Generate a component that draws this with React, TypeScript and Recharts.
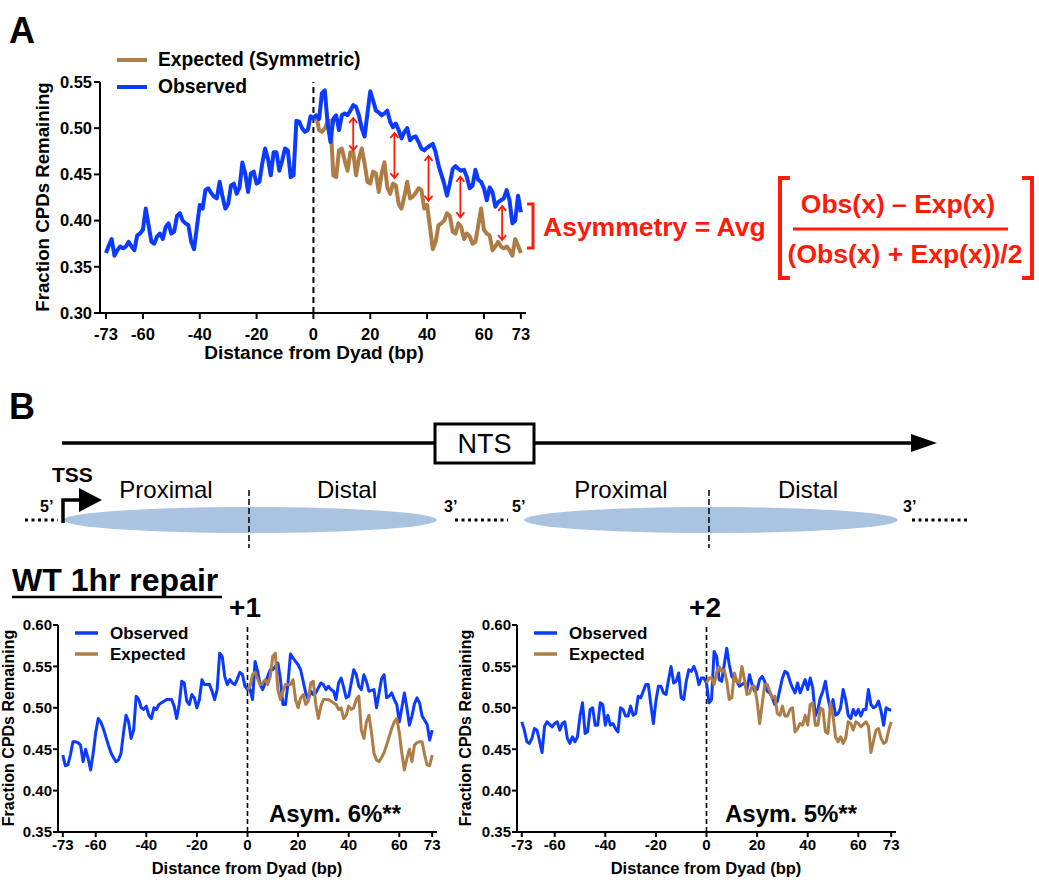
import React from "react";
import { LineChart, Line, XAxis, YAxis, ReferenceLine } from "recharts";

const FONT = "'Liberation Sans', Arial, Helvetica, sans-serif";
const BLUE = "#0b3bff";
const BROWN = "#ae7d45";
const RED = "#ff1a0a";

// Distance from dyad ticks
const X_TICKS = [-73, -60, -40, -20, 0, 20, 40, 60, 73];
const Y_TICKS_A = [0.3, 0.35, 0.4, 0.45, 0.5, 0.55];
const Y_TICKS_B = [0.35, 0.4, 0.45, 0.5, 0.55, 0.6];

// ---- Panel A: observed, -73..0 and 1..73; expected (symmetric) 0..73
const obsALeft = [
  0.365, 0.373, 0.38, 0.362, 0.368, 0.372, 0.37, 0.372, 0.377, 0.372,
  0.368, 0.384, 0.386, 0.39, 0.413, 0.395, 0.377, 0.375, 0.383, 0.386,
  0.38, 0.393, 0.397, 0.386, 0.388, 0.405, 0.408, 0.4, 0.397, 0.395,
  0.377, 0.369, 0.393, 0.417, 0.413, 0.433, 0.435, 0.43, 0.426, 0.424,
  0.442, 0.426, 0.413, 0.418, 0.438, 0.44, 0.429, 0.436, 0.463, 0.451,
  0.431, 0.451, 0.453, 0.44, 0.442, 0.462, 0.478, 0.467, 0.449, 0.474,
  0.474, 0.454, 0.465, 0.478, 0.476, 0.447, 0.449, 0.508, 0.507, 0.5,
  0.496, 0.498, 0.513, 0.511,
];
const obsARight = [
  0.514, 0.51, 0.538, 0.541, 0.505, 0.485, 0.51, 0.514, 0.498, 0.514,
  0.516, 0.514, 0.519, 0.525, 0.523, 0.514, 0.5, 0.491, 0.516, 0.54,
  0.53, 0.519, 0.517, 0.514, 0.516, 0.519, 0.507, 0.501, 0.505, 0.498,
  0.489, 0.496, 0.5, 0.487, 0.49, 0.491, 0.485, 0.478, 0.476, 0.479,
  0.481, 0.483, 0.474, 0.46, 0.45, 0.44, 0.427, 0.44, 0.456, 0.459,
  0.456, 0.454, 0.455, 0.447, 0.435, 0.438, 0.455, 0.444, 0.442, 0.435,
  0.422, 0.436, 0.431, 0.415, 0.42, 0.422, 0.424, 0.433, 0.422, 0.397,
  0.4, 0.427, 0.409,
];
const expA = [
  0.511, 0.513, 0.498, 0.496, 0.5, 0.507, 0.508, 0.449, 0.447, 0.476,
  0.478, 0.465, 0.454, 0.474, 0.474, 0.449, 0.467, 0.478, 0.462, 0.442,
  0.44, 0.453, 0.451, 0.431, 0.451, 0.463, 0.436, 0.429, 0.44, 0.438,
  0.418, 0.413, 0.426, 0.442, 0.424, 0.426, 0.43, 0.435, 0.433, 0.413,
  0.417, 0.393, 0.369, 0.377, 0.395, 0.397, 0.4, 0.408, 0.405, 0.388,
  0.386, 0.397, 0.393, 0.38, 0.386, 0.383, 0.375, 0.377, 0.395, 0.413,
  0.39, 0.386, 0.384, 0.368, 0.372, 0.377, 0.372, 0.37, 0.372, 0.368,
  0.362, 0.38, 0.373, 0.365,
];
// red difference arrows (position, top, bottom)
const arrowX = [14, 28.5, 40.5, 51.7, 66.4];
const arrowTop = [0.511, 0.495, 0.47, 0.4475, 0.416];
const arrowBottom = [0.476, 0.446, 0.4215, 0.4035, 0.379];

// ---- Panel B, +1 nucleosome
const obsB1Left = [
  0.443, 0.43, 0.431, 0.443, 0.459, 0.459, 0.458, 0.455, 0.435, 0.45,
  0.439, 0.425, 0.445, 0.47, 0.487, 0.483, 0.475, 0.465, 0.455, 0.446,
  0.44, 0.435, 0.437, 0.445, 0.47, 0.491, 0.483, 0.463, 0.473, 0.514,
  0.51, 0.5, 0.498, 0.502, 0.491, 0.487, 0.5, 0.498, 0.504, 0.506,
  0.508, 0.51, 0.51, 0.51, 0.502, 0.487, 0.504, 0.532, 0.53, 0.508,
  0.504, 0.516, 0.512, 0.5, 0.51, 0.534, 0.528, 0.528, 0.528, 0.52,
  0.51, 0.522, 0.566, 0.562, 0.538, 0.528, 0.534, 0.53, 0.528, 0.535,
  0.543, 0.54, 0.526, 0.522,
];
const obsB1Right = [
  0.522, 0.51, 0.556, 0.544, 0.528, 0.522, 0.53, 0.538, 0.546, 0.546,
  0.55, 0.554, 0.535, 0.504, 0.504, 0.53, 0.565, 0.56, 0.556, 0.552,
  0.546, 0.532, 0.518, 0.51, 0.52, 0.516, 0.518, 0.524, 0.53, 0.528,
  0.522, 0.526, 0.522, 0.52, 0.51, 0.53, 0.536, 0.525, 0.512, 0.514,
  0.53, 0.546, 0.54, 0.526, 0.522, 0.54, 0.532, 0.52, 0.521, 0.522,
  0.5, 0.518, 0.535, 0.54, 0.512, 0.514, 0.518, 0.51, 0.504, 0.483,
  0.5, 0.518, 0.5, 0.479, 0.49, 0.505, 0.512, 0.506, 0.49, 0.485,
  0.48, 0.461, 0.473,
];
const expB1 = [
  0.522, 0.526, 0.54, 0.543, 0.535, 0.528, 0.53, 0.534, 0.528, 0.538,
  0.562, 0.566, 0.522, 0.51, 0.52, 0.528, 0.528, 0.528, 0.534, 0.51,
  0.5, 0.512, 0.516, 0.504, 0.508, 0.53, 0.532, 0.504, 0.487, 0.502,
  0.51, 0.51, 0.51, 0.508, 0.506, 0.504, 0.498, 0.5, 0.487, 0.491,
  0.502, 0.498, 0.5, 0.51, 0.514, 0.473, 0.463, 0.483, 0.491, 0.47,
  0.445, 0.437, 0.435, 0.44, 0.446, 0.455, 0.465, 0.475, 0.483, 0.487,
  0.47, 0.445, 0.425, 0.439, 0.45, 0.435, 0.455, 0.458, 0.459, 0.459,
  0.443, 0.431, 0.43, 0.443,
];

// ---- Panel B, +2 nucleosome
const obsB2Left = [
  0.483, 0.473, 0.459, 0.457, 0.463, 0.475, 0.473, 0.46, 0.446, 0.478,
  0.483, 0.48, 0.477, 0.481, 0.483, 0.473, 0.481, 0.483, 0.463, 0.457,
  0.465, 0.459, 0.465, 0.49, 0.506, 0.469, 0.471, 0.498, 0.5, 0.479,
  0.479, 0.506, 0.504, 0.479, 0.491, 0.479, 0.481, 0.475, 0.471, 0.5,
  0.498, 0.49, 0.49, 0.502, 0.491, 0.493, 0.514, 0.512, 0.52, 0.528,
  0.528, 0.504, 0.481, 0.508, 0.526, 0.526, 0.518, 0.516, 0.534, 0.55,
  0.53, 0.532, 0.542, 0.512, 0.51, 0.532, 0.546, 0.544, 0.55, 0.542,
  0.528, 0.536, 0.536, 0.53,
];
const obsB2Right = [
  0.506, 0.51, 0.568, 0.562, 0.534, 0.532, 0.552, 0.572, 0.552, 0.538,
  0.534, 0.532, 0.526, 0.528, 0.53, 0.522, 0.54, 0.528, 0.52, 0.522,
  0.534, 0.538, 0.532, 0.52, 0.518, 0.512, 0.504, 0.508, 0.522, 0.536,
  0.544, 0.542, 0.532, 0.524, 0.518, 0.53, 0.518, 0.526, 0.534, 0.522,
  0.536, 0.524, 0.49, 0.498, 0.512, 0.52, 0.532, 0.512, 0.498, 0.51,
  0.491, 0.493, 0.5, 0.522, 0.51, 0.491, 0.487, 0.498, 0.491, 0.498,
  0.49, 0.498, 0.498, 0.522, 0.504, 0.5, 0.502, 0.508, 0.496, 0.479,
  0.5, 0.498, 0.497,
];
const expB2 = [
  0.53, 0.536, 0.536, 0.528, 0.542, 0.55, 0.544, 0.546, 0.532, 0.51,
  0.512, 0.542, 0.532, 0.53, 0.55, 0.534, 0.516, 0.518, 0.526, 0.526,
  0.508, 0.481, 0.504, 0.528, 0.528, 0.52, 0.512, 0.514, 0.493, 0.491,
  0.502, 0.49, 0.49, 0.498, 0.5, 0.471, 0.475, 0.481, 0.479, 0.491,
  0.479, 0.504, 0.506, 0.479, 0.479, 0.5, 0.498, 0.471, 0.469, 0.506,
  0.49, 0.465, 0.459, 0.465, 0.457, 0.463, 0.483, 0.481, 0.473, 0.483,
  0.481, 0.477, 0.48, 0.483, 0.478, 0.446, 0.46, 0.473, 0.475, 0.463,
  0.457, 0.459, 0.473, 0.483,
];

type Row = { x: number; obs: number; exp: number | null };

function buildRows(left: number[], right: number[], exp: number[]): Row[] {
  const rows: Row[] = [];
  for (let x = -73; x <= 73; x++) {
    rows.push({
      x,
      obs: x <= 0 ? left[x + 73] : right[x - 1],
      exp: x >= 0 ? exp[x] : null,
    });
  }
  return rows;
}

const rowsA = buildRows(obsALeft, obsARight, expA);
const rowsB1 = buildRows(obsB1Left, obsB1Right, expB1);
const rowsB2 = buildRows(obsB2Left, obsB2Right, expB2);

const RedArrow = (props: any) => {
  const { x1, y1, y2 } = props;
  const top = Math.min(y1, y2);
  const bot = Math.max(y1, y2);
  const h = 4;
  return (
    <g stroke={RED} strokeWidth={1.8} fill="none">
      <line x1={x1} y1={top} x2={x1} y2={bot} />
      <polyline points={`${x1 - h},${top + h + 1} ${x1},${top} ${x1 + h},${top + h + 1}`} />
      <polyline points={`${x1 - h},${bot - h - 1} ${x1},${bot} ${x1 + h},${bot - h - 1}`} />
    </g>
  );
};

const axisLine = { stroke: "#000", strokeWidth: 2 };

function PanelA() {
  const tick = { fill: "#000", fontSize: 16.5, fontWeight: 700, fontFamily: FONT };
  return (
    <LineChart
      width={540}
      height={360}
      data={rowsA}
      margin={{ top: 82, right: 14, bottom: 17, left: 0 }}
    >
      <XAxis
        type="number"
        dataKey="x"
        height={30}
        domain={[-75.1, 74.8]}
        allowDataOverflow
        ticks={X_TICKS}
        interval={0}
        tick={tick}
        tickSize={6}
        tickMargin={9}
        axisLine={axisLine}
        tickLine={axisLine}
      />
      <YAxis
        type="number"
        width={100}
        domain={[0.3, 0.55]}
        allowDataOverflow
        ticks={Y_TICKS_A}
        interval={0}
        tickFormatter={(v: number) => v.toFixed(2)}
        tick={tick}
        tickSize={6}
        tickMargin={2}
        axisLine={axisLine}
        tickLine={axisLine}
      />
      <ReferenceLine x={0} stroke="#000" strokeWidth={2} strokeDasharray="6 4" />
      <Line
        dataKey="exp"
        stroke={BROWN}
        strokeWidth={4}
        dot={false}
        strokeLinejoin="round"
        isAnimationActive={false}
      />
      <Line
        dataKey="obs"
        stroke={BLUE}
        strokeWidth={4}
        dot={false}
        strokeLinejoin="round"
        isAnimationActive={false}
      />
      {arrowX.map((ax, i) => (
        <ReferenceLine
          key={i}
          segment={[
            { x: ax, y: arrowTop[i] },
            { x: ax, y: arrowBottom[i] },
          ]}
          stroke={RED}
          shape={RedArrow}
        />
      ))}
    </LineChart>
  );
}

function PanelB({ rows }: { rows: Row[] }) {
  const tick = { fill: "#000", fontSize: 15, fontWeight: 700, fontFamily: FONT };
  return (
    <LineChart
      width={450}
      height={290}
      data={rows}
      margin={{ top: 35, right: 13, bottom: 18, left: 0 }}
    >
      <XAxis
        type="number"
        dataKey="x"
        height={30}
        domain={[-74.9, 74.9]}
        allowDataOverflow
        ticks={X_TICKS}
        interval={0}
        tick={tick}
        tickSize={5}
        tickMargin={2}
        axisLine={axisLine}
        tickLine={axisLine}
      />
      <YAxis
        type="number"
        width={58}
        domain={[0.35, 0.6]}
        allowDataOverflow
        ticks={Y_TICKS_B}
        interval={0}
        tickFormatter={(v: number) => v.toFixed(2)}
        tick={tick}
        tickSize={5}
        tickMargin={1}
        axisLine={axisLine}
        tickLine={axisLine}
      />
      <ReferenceLine x={0} stroke="#000" strokeWidth={1.6} strokeDasharray="5 3" />
      <Line
        dataKey="obs"
        stroke={BLUE}
        strokeWidth={3}
        dot={false}
        strokeLinejoin="round"
        isAnimationActive={false}
      />
      <Line
        dataKey="exp"
        stroke={BROWN}
        strokeWidth={3}
        dot={false}
        strokeLinejoin="round"
        isAnimationActive={false}
      />
    </LineChart>
  );
}

function Overlay() {
  const b = { fontFamily: FONT, fontWeight: 700, fill: "#000" } as const;
  const n = { fontFamily: FONT, fontWeight: 400, fill: "#000" } as const;
  const r = { fontFamily: FONT, fontWeight: 700, fill: RED } as const;
  return (
    <svg
      width={1039}
      height={880}
      style={{ position: "absolute", left: 0, top: 0, pointerEvents: "none" }}
    >
      {/* Panel A */}
      <text x={9} y={43} fontSize={36} {...b}>A</text>
      <line x1={117} y1={60} x2={147} y2={60} stroke={BROWN} strokeWidth={4} />
      <text x={158} y={66} fontSize={19.3} {...b}>Expected (Symmetric)</text>
      <line x1={117} y1={87} x2={147} y2={87} stroke={BLUE} strokeWidth={4} />
      <text x={158} y={93} fontSize={19.3} {...b}>Observed</text>
      <text transform="translate(49,197) rotate(-90)" textAnchor="middle" fontSize={18.7} {...b}>
        Fraction CPDs Remaining
      </text>
      <text x={314} y={359} textAnchor="middle" fontSize={19} {...b}>
        Distance from Dyad (bp)
      </text>

      <polyline points="527,204 533,204 533,248 527,248" fill="none" stroke={RED} strokeWidth={3} />
      <text x={543} y={236} fontSize={26.5} {...r}>Asymmetry = Avg</text>
      <polyline points="790,178 780,178 780,278 790,278" fill="none" stroke={RED} strokeWidth={4} />
      <polyline points="1022,178 1032,178 1032,278 1022,278" fill="none" stroke={RED} strokeWidth={4} />
      <text x={898} y={213} textAnchor="middle" fontSize={26.5} {...r}>Obs(x) – Exp(x)</text>
      <line x1={793} y1={229} x2={1008} y2={229} stroke={RED} strokeWidth={3} />
      <text x={905} y={263} textAnchor="middle" fontSize={26.5} {...r}>(Obs(x) + Exp(x))/2</text>

      {/* Panel B diagram */}
      <text x={9} y={419} fontSize={36} {...b}>B</text>
      <line x1={62} y1={443} x2={915} y2={443} stroke="#000" strokeWidth={3.5} />
      <polygon points="911,434 937,443 911,452" fill="#000" />
      <rect x={435} y={424} width={99} height={39} fill="#fff" stroke="#000" strokeWidth={3} />
      <text x={484.5} y={453} textAnchor="middle" fontSize={27} {...n}>NTS</text>

      <ellipse cx={250} cy={520} rx={187} ry={13} fill="#a9c3e1" />
      <ellipse cx={711} cy={520} rx={187} ry={13} fill="#a9c3e1" />
      <line x1={249} y1={490} x2={249} y2={548} stroke="#000" strokeWidth={1.5} strokeDasharray="6 3" />
      <line x1={709} y1={490} x2={709} y2={548} stroke="#000" strokeWidth={1.5} strokeDasharray="6 3" />

      <text x={52} y={482} fontSize={21} {...b}>TSS</text>
      <polyline points="63,523 63,500 82,500" fill="none" stroke="#000" strokeWidth={3.5} />
      <polygon points="79,488 102,500 79,512" fill="#000" />
      <text x={40} y={512} fontSize={16} {...b}>5’</text>
      <line x1={25} y1={520} x2={58} y2={520} stroke="#000" strokeWidth={3} strokeDasharray="3 3.5" />

      <text x={166} y={498} textAnchor="middle" fontSize={24} {...n}>Proximal</text>
      <text x={347} y={498} textAnchor="middle" fontSize={24} {...n}>Distal</text>
      <text x={444} y={512} fontSize={16} {...b}>3’</text>
      <line x1={455} y1={520} x2={508} y2={520} stroke="#000" strokeWidth={3} strokeDasharray="3 3.5" />
      <text x={512} y={512} fontSize={16} {...b}>5’</text>
      <text x={621} y={498} textAnchor="middle" fontSize={24} {...n}>Proximal</text>
      <text x={808} y={498} textAnchor="middle" fontSize={24} {...n}>Distal</text>
      <text x={903} y={512} fontSize={16} {...b}>3’</text>
      <line x1={912} y1={520} x2={970} y2={520} stroke="#000" strokeWidth={3} strokeDasharray="3 3.5" />

      <text x={12} y={591} fontSize={32} {...b}>WT 1hr repair</text>
      <line x1={12} y1={597} x2={222} y2={597} stroke="#000" strokeWidth={2.5} />

      {/* Panel B charts */}
      <text x={245} y={617} textAnchor="middle" fontSize={28} {...b}>+1</text>
      <text x={705} y={617} textAnchor="middle" fontSize={28} {...b}>+2</text>

      <line x1={75} y1={633} x2={98} y2={633} stroke={BLUE} strokeWidth={3.5} />
      <text x={110} y={639} fontSize={17} {...b}>Observed</text>
      <line x1={75} y1={654} x2={98} y2={654} stroke={BROWN} strokeWidth={3.5} />
      <text x={110} y={660} fontSize={17} {...b}>Expected</text>

      <line x1={534} y1={633} x2={557} y2={633} stroke={BLUE} strokeWidth={3.5} />
      <text x={569} y={639} fontSize={17} {...b}>Observed</text>
      <line x1={534} y1={654} x2={557} y2={654} stroke={BROWN} strokeWidth={3.5} />
      <text x={569} y={660} fontSize={17} {...b}>Expected</text>

      <text x={335} y={822} textAnchor="middle" fontSize={24} {...b}>Asym. 6%**</text>
      <text x={791} y={822} textAnchor="middle" fontSize={24} {...b}>Asym. 5%**</text>

      <text transform="translate(14,728) rotate(-90)" textAnchor="middle" fontSize={16} {...b}>
        Fraction CPDs Remaining
      </text>
      <text transform="translate(471,728) rotate(-90)" textAnchor="middle" fontSize={16} {...b}>
        Fraction CPDs Remaining
      </text>
      <text x={247} y={874} textAnchor="middle" fontSize={16.5} {...b}>Distance from Dyad (bp)</text>
      <text x={706} y={874} textAnchor="middle" fontSize={16.5} {...b}>Distance from Dyad (bp)</text>
    </svg>
  );
}

export default function App() {
  return (
    <div
      style={{
        position: "absolute",
        left: 0,
        top: 0,
        width: 1039,
        height: 880,
        background: "#fff",
        overflow: "hidden",
      }}
    >
      <div style={{ position: "absolute", left: 0, top: 0 }}>
        <PanelA />
      </div>
      <div style={{ position: "absolute", left: 0, top: 590 }}>
        <PanelB rows={rowsB1} />
      </div>
      <div style={{ position: "absolute", left: 459, top: 590 }}>
        <PanelB rows={rowsB2} />
      </div>
      <Overlay />
    </div>
  );
}
